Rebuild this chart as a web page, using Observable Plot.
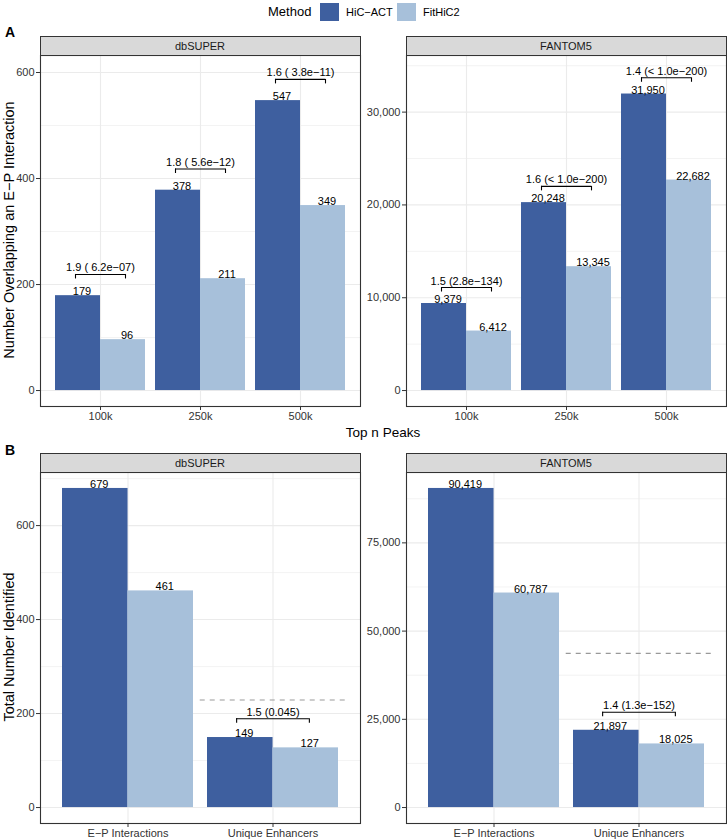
<!DOCTYPE html>
<html>
<head>
<meta charset="utf-8">
<script src="https://cdn.jsdelivr.net/npm/d3@7"></script>
<script src="https://cdn.jsdelivr.net/npm/@observablehq/plot@0.6"></script>
<style>
  body { margin: 0; background: #fff; }
  #root { position: relative; width: 727px; height: 840px; overflow: hidden; background: #fff;
          font-family: "Liberation Sans", Arial, Helvetica, sans-serif; color: #000; }
  .abs { position: absolute; white-space: nowrap; }
  .strip { position: absolute; box-sizing: border-box; border: 1px solid #333; background: #d9d9d9;
           font-size: 11px; text-align: center; color: #1a1a1a; }
  .swatch { position: absolute; width: 19px; height: 18px; }
</style>
</head>
<body>
<div id="root"></div>
<script>
// ---------------- data ----------------
const methods = ["HiC−ACT", "FitHiC2"];
const peaks = ["100k", "250k", "500k"];
const dbsuperA_hic = [179, 378, 547];
const dbsuperA_fit = [96, 211, 349];
const fantomA_hic = [9379, 20248, 31950];
const fantomA_fit = [6412, 13345, 22682];
const dbsuperA_tests = ["1.9 ( 6.2e−07)", "1.8 ( 5.6e−12)", "1.6 ( 3.8e−11)"];
const fantomA_tests = ["1.5 (2.8e−134)", "1.6 (< 1.0e−200)", "1.4 (< 1.0e−200)"];
const dbsuperA_bracketY = [219, 418, 587];
const fantomA_bracketY = [11100, 22000, 33700];

const typesB = ["E−P Interactions", "Unique Enhancers"];
const dbsuperB_hic = [679, 149];
const dbsuperB_fit = [461, 127];
const fantomB_hic = [90419, 21897];
const fantomB_fit = [60787, 18025];
const dbsuperB_tests = ["1.5 (0.045)"];
const fantomB_tests = ["1.4 (1.3e−152)"];
const dbsuperB_bracketY = [189];
const fantomB_bracketY = [27000];
const dbsuperB_ref = 229;
const fantomB_ref = 43700;

const dbsuperA_ticks = [0, 200, 400, 600];
const fantomA_ticks = [0, 10000, 20000, 30000];
const dbsuperB_ticks = [0, 200, 400, 600];
const fantomB_ticks = [0, 25000, 50000, 75000];

// ---------------- style ----------------
const DARK = "#3E5F9F";
const LIGHT = "#A7C0DA";
const FONT = '"Liberation Sans", Arial, Helvetica, sans-serif';
const root = document.getElementById("root");
const plain = d3.format("d");
const comma = d3.format(",");

function addDiv(cls, text, css) {
  const el = document.createElement("div");
  el.className = cls;
  if (text != null) el.textContent = text;
  Object.assign(el.style, css);
  root.appendChild(el);
  return el;
}

function drawPanel(o) {
  const mL = 40, mR = 1, mT = 1, mB = 30, W = 320, H = 351;
  const cats = o.cats;
  const rows = cats.map((c, i) => ({cat: c, hic: o.hic[i], fit: o.fit[i]}));
  const n = cats.length;
  const step = W / (n - 0.1 + 0.3);
  const bw = step * 0.9;
  const half = 0.25 * step;
  const pxPerUnit = H / (o.domain[1] - o.domain[0]);
  const leg = 4.5 / pxPerUnit;
  const tstep = o.ticks[1] - o.ticks[0];
  const minor = [];
  for (let v = o.ticks[0] - tstep / 2; v < o.domain[1]; v += tstep) if (v > o.domain[0]) minor.push(v);
  const brackets = o.bracketCats.map((c, i) => ({cat: c, y: o.bracketY[i], label: o.tests[i]}));

  const marks = [
    Plot.gridY(minor, {stroke: "#ebebeb", strokeOpacity: 1, strokeWidth: 0.6}),
    Plot.gridY(o.ticks, {stroke: "#ebebeb", strokeOpacity: 1, strokeWidth: 1.1}),
    Plot.gridX(cats, {stroke: "#ebebeb", strokeOpacity: 1, strokeWidth: 1.1}),
    Plot.barY(rows, {x: "cat", y: "hic", fill: DARK, insetRight: bw / 2}),
    Plot.barY(rows, {x: "cat", y: "fit", fill: LIGHT, insetLeft: bw / 2}),
    Plot.text(rows, {x: "cat", y: "hic", text: d => o.fmt(d.hic), dx: -bw / 4 + 4, dy: -0.5,
                     lineAnchor: "bottom", fill: "#000"}),
    Plot.text(rows, {x: "cat", y: "fit", text: d => o.fmt(d.fit), dx: bw / 4 + 4, dy: -0.5,
                     lineAnchor: "bottom", fill: "#000"}),
    Plot.tickY(brackets, {x: "cat", y: "y", insetLeft: bw / 2 - half, insetRight: bw / 2 - half,
                          stroke: "#000", strokeWidth: 1.1}),
    Plot.ruleX(brackets, {x: "cat", y1: "y", y2: d => d.y - leg, dx: -half, stroke: "#000", strokeWidth: 1.1}),
    Plot.ruleX(brackets, {x: "cat", y1: "y", y2: d => d.y - leg, dx: half, stroke: "#000", strokeWidth: 1.1}),
    Plot.text(brackets, {x: "cat", y: "y", text: "label", dy: -3, lineAnchor: "bottom", fill: "#000"})
  ];
  if (o.ref != null) {
    marks.push(Plot.tickY([{cat: o.refCat, v: o.ref}], {x: "cat", y: "v", stroke: "#999",
      strokeWidth: 1.1, strokeDasharray: "5,5", insetLeft: -(step - bw) / 2, insetRight: -(step - bw) / 2}));
  }
  marks.push(
    Plot.frame({stroke: "#333", strokeWidth: 1.1}),
    Plot.axisY(o.ticks, {tickFormat: o.fmt, tickSize: 4, tickPadding: 2, label: null, fill: "#333", stroke: "#333"}),
    Plot.axisX(cats, {tickSize: 4, tickPadding: 2, label: null, fill: "#333", stroke: "#333"})
  );

  const chart = Plot.plot({
    width: mL + W + mR, height: mT + H + mB,
    marginLeft: mL, marginRight: mR, marginTop: mT, marginBottom: mB,
    style: {fontFamily: FONT, fontSize: "11px", background: "transparent", color: "#333", overflow: "visible"},
    x: {type: "band", domain: cats, paddingInner: 0.1, paddingOuter: 0.15, align: 0.5},
    y: {domain: o.domain},
    marks
  });
  chart.style.position = "absolute";
  chart.style.left = (o.px - mL) + "px";
  chart.style.top = (o.py - mT) + "px";
  root.appendChild(chart);

  addDiv("strip", o.title, {left: (o.px - 0.5) + "px", top: (o.py - 19.5) + "px", width: (W + 1) + "px",
                            height: "20px", lineHeight: "18px"});
}

// ---------------- legend ----------------
addDiv("abs", "Method", {left: "268px", top: "3px", fontSize: "13px", lineHeight: "18px"});
addDiv("swatch", null, {left: "320px", top: "3px", background: DARK});
addDiv("abs", methods[0], {left: "346px", top: "3px", fontSize: "11px", lineHeight: "18px"});
addDiv("swatch", null, {left: "397px", top: "3px", background: LIGHT});
addDiv("abs", methods[1], {left: "423px", top: "3px", fontSize: "11px", lineHeight: "18px"});

// ---------------- tags & titles ----------------
addDiv("abs", "A", {left: "5px", top: "24px", fontSize: "14px", fontWeight: "bold", lineHeight: "16px"});
addDiv("abs", "B", {left: "5px", top: "442px", fontSize: "14px", fontWeight: "bold", lineHeight: "16px"});
addDiv("abs", "Top n Peaks", {left: "383px", top: "432px", fontSize: "13.5px", transform: "translate(-50%,-50%)"});
addDiv("abs", "Number Overlapping an E−P Interaction",
       {left: "9px", top: "230px", fontSize: "14.5px", transform: "translate(-50%,-50%) rotate(-90deg)"});
addDiv("abs", "Total Number Identified",
       {left: "9px", top: "647px", fontSize: "14.5px", transform: "translate(-50%,-50%) rotate(-90deg)"});

// ---------------- panels ----------------
drawPanel({title: "dbSUPER", cats: peaks, hic: dbsuperA_hic, fit: dbsuperA_fit, ticks: dbsuperA_ticks,
  domain: [-30.1, 632.1], fmt: plain, bracketCats: peaks, bracketY: dbsuperA_bracketY, tests: dbsuperA_tests,
  px: 40, py: 55});
drawPanel({title: "FANTOM5", cats: peaks, hic: fantomA_hic, fit: fantomA_fit, ticks: fantomA_ticks,
  domain: [-1719, 36100], fmt: comma, bracketCats: peaks, bracketY: fantomA_bracketY, tests: fantomA_tests,
  px: 406, py: 55});
drawPanel({title: "dbSUPER", cats: typesB, hic: dbsuperB_hic, fit: dbsuperB_fit, ticks: dbsuperB_ticks,
  domain: [-33.95, 712.95], fmt: plain, bracketCats: [typesB[1]], bracketY: dbsuperB_bracketY, tests: dbsuperB_tests,
  ref: dbsuperB_ref, refCat: typesB[1], px: 40, py: 472});
drawPanel({title: "FANTOM5", cats: typesB, hic: fantomB_hic, fit: fantomB_fit, ticks: fantomB_ticks,
  domain: [-4521, 94940], fmt: comma, bracketCats: [typesB[1]], bracketY: fantomB_bracketY, tests: fantomB_tests,
  ref: fantomB_ref, refCat: typesB[1], px: 406, py: 472});
</script>
</body>
</html>
